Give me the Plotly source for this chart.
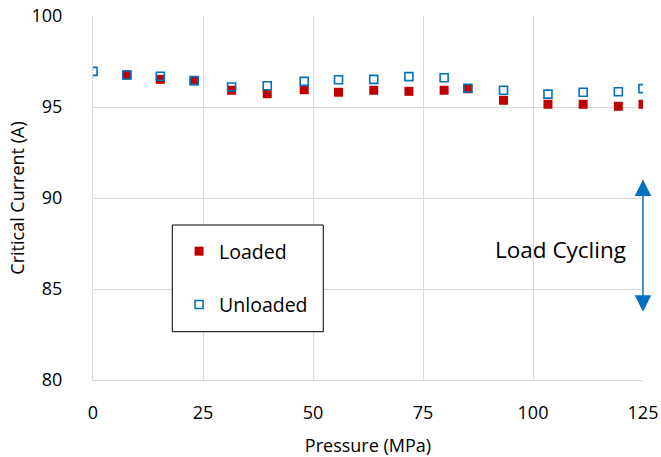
import plotly.graph_objects as go

# Data
pressure_loaded = [7.7, 15.3, 23.0, 31.5, 39.6, 48.0, 55.8, 63.8, 71.8, 79.8, 85.2, 93.3, 103.4, 111.4, 119.4, 125.0]
current_loaded = [96.76, 96.52, 96.44, 95.92, 95.73, 95.95, 95.81, 95.92, 95.86, 95.92, 96.0, 95.37, 95.15, 95.15, 95.04, 95.15]

pressure_unloaded = [0.0, 7.7, 15.3, 23.0, 31.5, 39.6, 48.0, 55.8, 63.8, 71.8, 79.8, 85.2, 93.3, 103.4, 111.4, 119.4, 125.0]
current_unloaded = [96.96, 96.76, 96.69, 96.45, 96.10, 96.17, 96.41, 96.50, 96.52, 96.67, 96.61, 96.03, 95.92, 95.71, 95.81, 95.84, 96.01]

x_ticks = [0, 25, 50, 75, 100, 125]
y_ticks = [80, 85, 90, 95, 100]

cycle_top = 91.1
cycle_bottom = 83.75
cycle_x = 125

FONT = "Open Sans"
RED = "#C00000"
BLUE = "#0070C0"
GRID = "#D9D9D9"

fig = go.Figure()
fig.add_trace(go.Scatter(
    x=pressure_loaded, y=current_loaded, mode="markers", name="Loaded",
    legendgroup="a",
    marker=dict(symbol="square", size=9, color=RED, line=dict(width=0)),
))
fig.add_trace(go.Scatter(
    x=pressure_unloaded, y=current_unloaded, mode="markers", name="Unloaded",
    legendgroup="b",
    marker=dict(symbol="square-open", size=8, color=BLUE, line=dict(width=1.6, color=BLUE)),
))

fig.add_annotation(
    x=cycle_x, y=cycle_bottom, ax=cycle_x, ay=cycle_top,
    xref="x", yref="y", axref="x", ayref="y",
    text="", showarrow=True, arrowhead=2, arrowside="end+start",
    arrowsize=2.2, arrowwidth=1.5, arrowcolor=BLUE, standoff=0, startstandoff=0,
)
fig.add_annotation(
    x=106.2, y=87.18, xref="x", yref="y", text="Load Cycling", showarrow=False,
    font=dict(family=FONT, size=22.5, color="black"),
)

# legend frame (white box with black border)
fig.add_shape(
    type="rect", xref="paper", yref="paper",
    x0=0.1442, x1=0.4187, y0=0.1327, y1=0.4258,
    line=dict(color="black", width=1), fillcolor="white", layer="above",
)

fig.update_layout(
    width=661, height=457,
    margin=dict(l=93, r=18, t=16, b=77, autoexpand=False),
    paper_bgcolor="white", plot_bgcolor="white",
    font=dict(family=FONT, size=18, color="black"),
    showlegend=True,
    legend=dict(
        x=0.1565, y=0.4066, xanchor="left", yanchor="top",
        borderwidth=0, bgcolor="rgba(0,0,0,0)",
        font=dict(family=FONT, size=19.5, color="black"),
        tracegroupgap=25, entrywidth=110,
    ),
)
fig.update_xaxes(
    range=[0, 125], tickvals=x_ticks, showgrid=True, gridcolor=GRID, gridwidth=1,
    showline=True, linecolor=GRID, linewidth=1, zeroline=False, ticks="",
    ticklabelstandoff=16, ticklabeloverflow="allow",
    tickfont=dict(family=FONT, size=18, color="black"),
    title=dict(text="Pressure (MPa)", font=dict(family=FONT, size=18, color="black"), standoff=17),
    automargin=False,
)
fig.update_yaxes(
    range=[80, 100], tickvals=y_ticks, showgrid=True, gridcolor=GRID, gridwidth=1,
    showline=True, linecolor=GRID, linewidth=1, zeroline=False, ticks="",
    ticklabelstandoff=26, ticklabeloverflow="allow",
    tickfont=dict(family=FONT, size=18, color="black"),
    title=dict(text="Critical Current (A)", font=dict(family=FONT, size=18, color="black"), standoff=2),
    automargin=False,
)

fig.write_html(
    "out.html",
    config={"displayModeBar": False},
    post_script="document.body.style.margin='0';document.body.style.overflow='hidden';",
)
